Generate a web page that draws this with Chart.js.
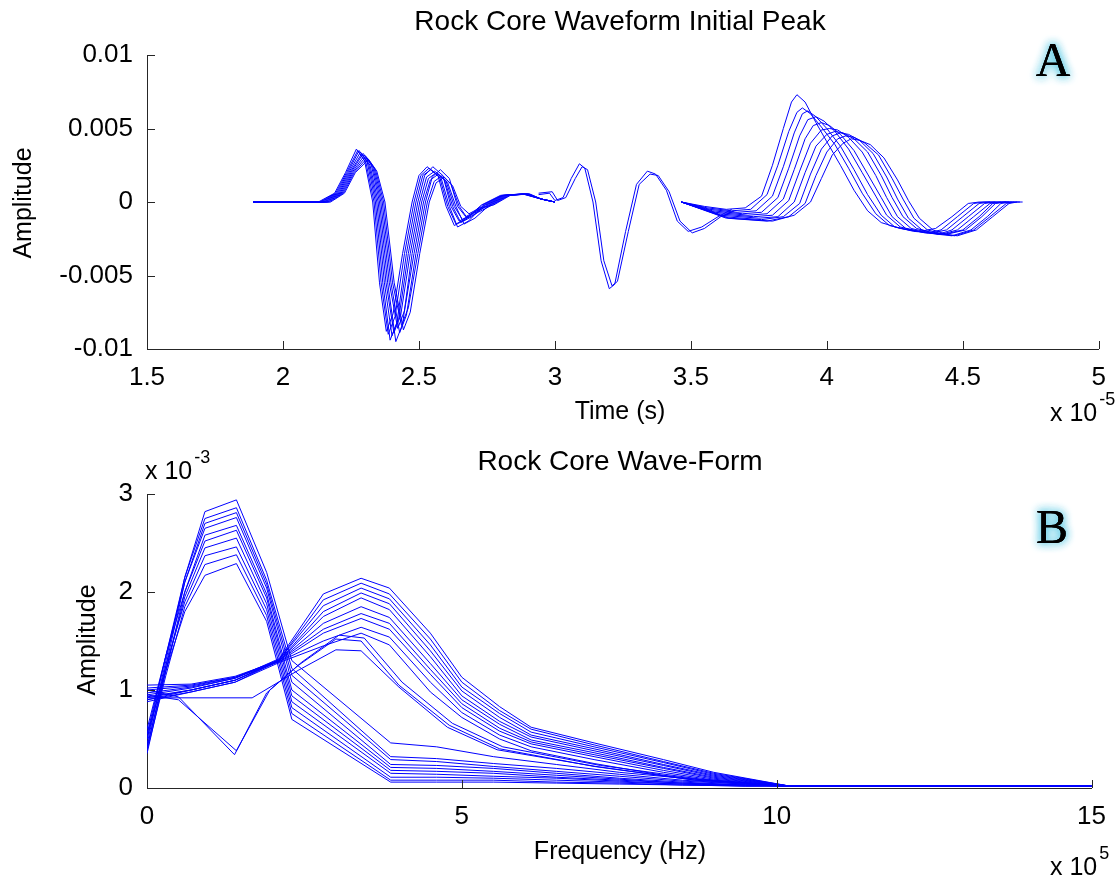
<!DOCTYPE html>
<html>
<head>
<meta charset="utf-8">
<script src="https://cdn.jsdelivr.net/npm/chart.js@4.4.0/dist/chart.umd.min.js"></script>
<style>
  html, body { margin: 0; padding: 0; background: #fff; }
  #wrap { position: relative; width: 1119px; height: 882px; overflow: hidden; }
  canvas { position: absolute; left: 0; }
  #chartA { top: 0; }
  #chartB { top: 440px; }
</style>
</head>
<body>
<div id="wrap">
  <canvas id="chartA" width="1119" height="440"></canvas>
  <canvas id="chartB" width="1119" height="442"></canvas>
</div>
<script>
// ---- Panel A: time traces (x in 1e-5 s, y in 1e-3) ----
const timeTicks = [1.5, 2, 2.5, 3, 3.5, 4, 4.5, 5];
const timeTickLabels = ['1.5', '2', '2.5', '3', '3.5', '4', '4.5', '5'];
const ampTicksA = [-10, -5, 0, 5, 10];
const ampTickLabelsA = ['-0.01', '-0.005', '0', '0.005', '0.01'];

// initial peak, one trace per core sample
const wave1a = [[1.89,0],[2.13,0],[2.19,0.6],[2.23,2.0],[2.27,3.6],[2.30,2.8],[2.33,0],[2.355,-5.5],[2.38,-8.8],[2.405,-7.6],[2.44,-3.5],[2.475,0],[2.5,1.8],[2.53,2.4],[2.57,1.8],[2.6,-0.3],[2.63,-1.6],[2.67,-1.2],[2.73,-0.2],[2.8,0.45],[2.88,0.55],[2.95,0.2],[3.0,0]];
const wave1b = [[1.89,0],[2.135,0],[2.194,0.6],[2.234,2.0],[2.275,3.5],[2.305,2.7],[2.335,0],[2.361,-5.5],[2.387,-9.0],[2.412,-7.8],[2.447,-3.5],[2.482,0],[2.507,1.8],[2.537,2.3],[2.576,1.7],[2.606,-0.3],[2.636,-1.5],[2.676,-1.1],[2.735,-0.2],[2.804,0.45],[2.883,0.55],[2.95,0.2],[3.0,0]];
const wave1c = [[1.89,0],[2.14,0],[2.198,0.6],[2.238,2.0],[2.28,3.5],[2.31,2.7],[2.34,0],[2.367,-5.5],[2.394,-9.4],[2.419,-8.2],[2.454,-3.5],[2.489,0],[2.514,1.8],[2.544,2.2],[2.582,1.6],[2.612,-0.3],[2.642,-1.7],[2.682,-1.3],[2.74,-0.2],[2.808,0.45],[2.886,0.55],[2.95,0.2],[3.0,0]];
const wave1d = [[1.89,0],[2.145,0],[2.202,0.6],[2.242,2.0],[2.285,3.4],[2.315,2.6],[2.345,0],[2.373,-5.5],[2.401,-9.1],[2.426,-7.9],[2.461,-3.5],[2.496,0],[2.521,1.8],[2.551,2.4],[2.588,1.8],[2.618,-0.3],[2.648,-1.3],[2.688,-0.9],[2.745,-0.2],[2.812,0.45],[2.889,0.55],[2.95,0.2],[3.0,0]];
const wave1e = [[1.89,0],[2.15,0],[2.206,0.6],[2.246,2.0],[2.29,3.3],[2.32,2.5],[2.35,0],[2.379,-5.5],[2.408,-8.9],[2.433,-7.7],[2.468,-3.5],[2.503,0],[2.528,1.7],[2.558,2.1],[2.594,1.5],[2.624,-0.3],[2.654,-1.4],[2.694,-1.0],[2.75,-0.2],[2.816,0.45],[2.892,0.55],[2.95,0.2],[3.0,0]];
const wave1f = [[1.89,0],[2.155,0],[2.21,0.6],[2.25,2.0],[2.295,3.3],[2.325,2.5],[2.355,0],[2.385,-5.5],[2.415,-9.5],[2.44,-8.3],[2.475,-3.5],[2.51,0],[2.535,1.6],[2.565,2.0],[2.6,1.4],[2.63,-0.3],[2.66,-1.2],[2.7,-0.8],[2.755,-0.2],[2.82,0.45],[2.895,0.55],[2.95,0.2],[3.0,0]];
const wave1g = [[1.89,0],[2.16,0],[2.214,0.6],[2.254,2.0],[2.3,3.2],[2.33,2.4],[2.36,0],[2.391,-5.5],[2.422,-8.6],[2.447,-7.4],[2.482,-3.5],[2.517,0],[2.542,1.5],[2.572,1.9],[2.606,1.3],[2.636,-0.3],[2.666,-1.5],[2.706,-1.1],[2.76,-0.2],[2.824,0.45],[2.898,0.55],[2.95,0.2],[3.0,0]];
const wave1h = [[1.89,0],[2.165,0],[2.218,0.6],[2.258,2.0],[2.305,3.1],[2.335,2.3],[2.365,0],[2.397,-5.5],[2.429,-8.9],[2.454,-7.7],[2.489,-3.5],[2.524,0],[2.549,1.7],[2.579,2.2],[2.612,1.6],[2.642,-0.3],[2.672,-1.0],[2.712,-0.6],[2.765,-0.2],[2.828,0.45],[2.901,0.55],[2.95,0.2],[3.0,0]];
const wave1i = [[1.89,0],[2.17,0],[2.222,0.6],[2.262,2.0],[2.31,3.0],[2.34,2.2],[2.37,0],[2.403,-5.5],[2.436,-8.4],[2.461,-7.2],[2.496,-3.5],[2.531,0],[2.556,1.4],[2.586,1.8],[2.618,1.2],[2.648,-0.3],[2.678,-1.1],[2.718,-0.7],[2.77,-0.2],[2.832,0.45],[2.904,0.55],[2.95,0.2],[3.0,0]];
const wave1j = [[1.89,0],[2.175,0],[2.226,0.6],[2.266,2.0],[2.315,2.9],[2.345,2.1],[2.375,0],[2.409,-5.5],[2.443,-8.7],[2.468,-7.5],[2.503,-3.5],[2.538,0],[2.563,1.3],[2.593,1.7],[2.624,1.1],[2.654,-0.3],[2.684,-0.8],[2.724,-0.4],[2.775,-0.2],[2.836,0.45],[2.907,0.55],[2.95,0.2],[3.0,0]];

// middle section, only two traces
const wave2a = [[2.94,0.5],[2.98,0.6],[3.0,0.1],[3.03,0.3],[3.06,1.6],[3.09,2.6],[3.11,2.3],[3.14,0],[3.17,-4.0],[3.2,-5.9],[3.22,-5.6],[3.26,-2.0],[3.3,1.2],[3.34,2.1],[3.37,1.9],[3.41,0.8],[3.45,-1.3],[3.49,-2.0],[3.54,-1.7],[3.6,-1.0],[3.65,-0.5]];
const wave2b = [[2.94,0.6],[2.99,0.7],[3.01,0.1],[3.04,0.3],[3.075,1.6],[3.1,2.4],[3.12,2.2],[3.15,0],[3.18,-4.0],[3.21,-5.7],[3.23,-5.4],[3.27,-2.0],[3.31,1.2],[3.35,1.9],[3.38,1.8],[3.42,0.7],[3.46,-1.3],[3.505,-2.1],[3.55,-1.8],[3.61,-1.0],[3.66,-0.6]];

// late arrivals
const wave3a = [[3.465,0],[3.55,-0.3],[3.63,-0.5],[3.7,-0.4],[3.76,0.4],[3.8,2.5],[3.84,5.0],[3.87,6.8],[3.89,7.3],[3.92,6.8],[3.96,5.4],[4.0,4.1],[4.05,2.5],[4.1,0.8],[4.15,-0.6],[4.2,-1.4],[4.27,-1.8],[4.34,-2.0],[4.4,-1.8],[4.46,-1.0],[4.52,-0.1],[4.56,0],[4.6,0]];
const wave3b = [[3.465,0],[3.56,-0.4],[3.65,-0.6],[3.72,-0.5],[3.78,0.5],[3.82,2.5],[3.86,4.8],[3.89,6.1],[3.91,6.4],[3.94,6.0],[3.98,5.1],[4.03,3.9],[4.08,2.3],[4.13,0.6],[4.18,-0.8],[4.23,-1.6],[4.3,-1.9],[4.37,-2.1],[4.42,-1.9],[4.48,-1.0],[4.54,-0.1],[4.58,0],[4.62,0]];
const wave3c = [[3.465,0],[3.57,-0.5],[3.67,-0.7],[3.74,-0.6],[3.8,0.4],[3.84,2.4],[3.88,4.7],[3.91,6.0],[3.93,6.2],[3.96,5.8],[4.0,5.0],[4.05,3.8],[4.1,2.2],[4.15,0.5],[4.2,-0.9],[4.25,-1.7],[4.32,-2.0],[4.39,-2.1],[4.44,-1.9],[4.5,-1.0],[4.56,-0.1],[4.6,0],[4.64,0]];
const wave3d = [[3.465,0],[3.58,-0.6],[3.69,-0.8],[3.76,-0.7],[3.82,0.3],[3.86,2.3],[3.9,4.5],[3.93,5.6],[3.96,5.8],[3.99,5.5],[4.03,4.8],[4.08,3.6],[4.13,2.0],[4.18,0.4],[4.22,-0.9],[4.27,-1.7],[4.34,-2.0],[4.41,-2.2],[4.46,-1.9],[4.52,-1.0],[4.58,-0.1],[4.62,0],[4.66,0]];
const wave3e = [[3.465,0],[3.59,-0.7],[3.71,-0.9],[3.78,-0.8],[3.84,0.2],[3.88,2.2],[3.92,4.3],[3.95,5.2],[3.98,5.4],[4.01,5.2],[4.05,4.6],[4.1,3.5],[4.15,1.9],[4.2,0.3],[4.24,-1.0],[4.29,-1.8],[4.36,-2.1],[4.42,-2.2],[4.48,-1.9],[4.54,-1.0],[4.6,-0.1],[4.64,0],[4.67,0]];
const wave3f = [[3.465,0],[3.6,-0.8],[3.73,-1.0],[3.8,-0.9],[3.86,0.1],[3.9,2.1],[3.94,4.0],[3.98,4.9],[4.01,5.0],[4.04,4.9],[4.08,4.4],[4.13,3.4],[4.18,1.8],[4.22,0.3],[4.26,-1.0],[4.31,-1.8],[4.38,-2.1],[4.43,-2.2],[4.5,-1.9],[4.56,-1.0],[4.61,-0.1],[4.65,0],[4.68,0]];
const wave3g = [[3.465,0],[3.61,-0.9],[3.75,-1.1],[3.82,-1.0],[3.88,0],[3.92,2.0],[3.96,3.8],[4.0,4.6],[4.03,4.8],[4.06,4.7],[4.1,4.3],[4.15,3.4],[4.2,1.8],[4.24,0.3],[4.28,-1.0],[4.33,-1.8],[4.39,-2.1],[4.44,-2.2],[4.51,-1.9],[4.57,-1.0],[4.62,-0.1],[4.66,0],[4.69,0]];
const wave3h = [[3.465,0],[3.62,-1.0],[3.76,-1.2],[3.84,-1.0],[3.9,-0.1],[3.94,1.9],[3.98,3.6],[4.02,4.5],[4.05,4.7],[4.08,4.6],[4.12,4.2],[4.17,3.3],[4.22,1.7],[4.26,0.2],[4.3,-1.1],[4.35,-1.9],[4.41,-2.2],[4.46,-2.3],[4.53,-1.9],[4.59,-1.0],[4.64,-0.1],[4.68,0],[4.7,0]];
const wave3i = [[3.465,0],[3.63,-1.1],[3.78,-1.3],[3.86,-1.0],[3.92,-0.1],[3.96,1.8],[4.0,3.4],[4.04,4.3],[4.07,4.5],[4.1,4.4],[4.14,4.0],[4.19,3.2],[4.24,1.6],[4.28,0.2],[4.32,-1.1],[4.37,-1.9],[4.43,-2.2],[4.47,-2.3],[4.54,-1.9],[4.6,-1.0],[4.66,-0.1],[4.69,0],[4.71,0]];
const wave3j = [[3.465,0],[3.64,-1.1],[3.8,-1.3],[3.88,-0.9],[3.94,0],[3.98,1.6],[4.02,3.2],[4.06,4.0],[4.09,4.3],[4.12,4.2],[4.16,3.9],[4.21,3.0],[4.26,1.5],[4.3,0.1],[4.34,-1.1],[4.39,-1.9],[4.44,-2.2],[4.48,-2.3],[4.55,-1.9],[4.61,-1.0],[4.67,-0.1],[4.7,0],[4.72,0]];

// ---- Panel B: spectra (x in 1e5 Hz, y in 1e-3) ----
const freqTicks = [0, 5, 10, 15];
const ampTicksB = [0, 1, 2, 3];

// low-frequency family
const lowFreq = [0, 0.3, 0.6, 0.92, 1.42, 1.9, 2.3, 3.87, 4.6, 5.5, 6.5, 7.5, 8.5, 9.5, 10.2, 15];
const low1 = [0.45,1.3,2.15,2.82,2.94,2.2,1.3,0.46,0.42,0.32,0.24,0.16,0.1,0.05,0.02,0.02];
const low2 = [0.5,1.35,2.15,2.75,2.86,2.12,1.22,0.32,0.3,0.25,0.2,0.14,0.08,0.04,0.02,0.02];
const low3 = [0.4,1.25,2.1,2.7,2.81,2.08,1.15,0.29,0.27,0.22,0.17,0.12,0.07,0.04,0.02,0.02];
const low4 = [0.55,1.35,2.1,2.65,2.76,2.04,1.08,0.24,0.23,0.2,0.15,0.1,0.06,0.03,0.02,0.02];
const low5 = [0.35,1.2,2.0,2.58,2.68,1.98,1.0,0.21,0.2,0.17,0.13,0.09,0.05,0.03,0.02,0.02];
const low6 = [0.6,1.35,2.0,2.52,2.63,1.94,0.94,0.18,0.17,0.15,0.11,0.08,0.05,0.03,0.02,0.02];
const low7 = [0.42,1.2,1.95,2.45,2.55,1.88,0.88,0.15,0.14,0.12,0.1,0.07,0.04,0.03,0.02,0.02];
const low8 = [0.5,1.25,1.9,2.37,2.46,1.82,0.82,0.11,0.11,0.1,0.08,0.06,0.04,0.02,0.02,0.02];
const low9 = [0.38,1.15,1.85,2.28,2.38,1.76,0.76,0.08,0.08,0.08,0.06,0.05,0.03,0.02,0.02,0.02];
const low10 = [0.55,1.2,1.8,2.17,2.29,1.7,0.7,0.06,0.06,0.06,0.05,0.04,0.03,0.02,0.02,0.02];

// high-frequency family
const highFreq = [0, 0.7, 1.4, 2.1, 2.8, 3.4, 3.85, 4.5, 5.0, 5.6, 6.1, 7.1, 8.2, 9.0, 10.2, 15];
const high1 = [0.95,1.02,1.12,1.32,1.98,2.14,2.04,1.58,1.13,0.83,0.62,0.46,0.29,0.16,0.02,0.02];
const high2 = [1.0,1.04,1.13,1.31,1.92,2.09,1.98,1.52,1.08,0.79,0.6,0.44,0.27,0.15,0.02,0.02];
const high3 = [0.9,1.0,1.1,1.31,1.86,2.04,1.93,1.46,1.03,0.76,0.57,0.42,0.26,0.14,0.02,0.02];
const high4 = [1.05,1.06,1.14,1.3,1.8,1.99,1.88,1.4,0.99,0.72,0.54,0.4,0.24,0.13,0.02,0.02];
const high5 = [0.92,1.0,1.1,1.3,1.75,1.94,1.82,1.34,0.94,0.68,0.52,0.38,0.23,0.12,0.02,0.02];
const high6 = [0.97,1.03,1.12,1.3,1.68,1.85,1.74,1.27,0.9,0.65,0.49,0.36,0.21,0.11,0.02,0.02];
const high7 = [0.88,0.98,1.08,1.3,1.62,1.78,1.68,1.21,0.86,0.61,0.47,0.34,0.2,0.1,0.02,0.02];
const high8 = [1.02,1.05,1.13,1.29,1.58,1.73,1.62,1.16,0.82,0.58,0.45,0.32,0.18,0.09,0.02,0.02];
const high9 = [0.93,1.0,1.1,1.29,1.5,1.64,1.54,1.08,0.77,0.54,0.42,0.29,0.16,0.08,0.02,0.02];
const high10 = [0.9,0.98,1.08,1.28,1.45,1.58,1.46,0.98,0.72,0.5,0.38,0.25,0.13,0.07,0.02,0.02];

// odd ones (dip near 1.4e5 and the flat start)
const dipSpec1 = [[0,1.0],[0.5,0.93],[1.39,0.34],[1.9,0.97],[2.4,1.25],[3.0,1.52],[3.4,1.5],[4.0,1.05],[4.8,0.64],[5.6,0.4],[7.1,0.22],[8.7,0.08],[10.2,0.02],[15,0.02]];
const dipSpec2 = [[0,0.95],[0.5,0.9],[1.42,0.38],[1.95,1.0],[2.45,1.28],[3.05,1.56],[3.45,1.53],[4.05,1.08],[4.85,0.66],[5.65,0.42],[7.2,0.23],[8.8,0.09],[10.2,0.02],[15,0.02]];
const flatSpec = [[0,0.92],[1.67,0.92],[2.4,1.2],[3.0,1.41],[3.4,1.4],[4.0,1.03],[4.77,0.62],[5.56,0.39],[7.13,0.22],[8.7,0.08],[10.2,0.02],[15,0.02]];

const LINE_BLUE = '#0000ff';
const FONT = "'Liberation Sans', Arial, sans-serif";

function trace(points) {
    return {
        data: points.map(p => ({ x: p[0], y: p[1] })),
        borderColor: LINE_BLUE,
        borderWidth: 1,
        pointRadius: 0,
        fill: false,
        tension: 0
    };
}

function zip(xs, ys) {
    return trace(xs.map((x, i) => [x, ys[i]]));
}

// inward MATLAB style tick marks
const innerTicks = {
    id: 'innerTicks',
    afterDraw(chart) {
        const ctx = chart.ctx;
        const xs = chart.scales.x, ys = chart.scales.y;
        const a = chart.chartArea;
        ctx.save();
        ctx.strokeStyle = '#262626';
        ctx.lineWidth = 1;
        ctx.beginPath();
        xs.ticks.forEach(t => {
            const px = Math.round(xs.getPixelForValue(t.value)) + 0.5;
            ctx.moveTo(px, a.bottom);
            ctx.lineTo(px, a.bottom - 8);
        });
        ys.ticks.forEach(t => {
            const py = Math.round(ys.getPixelForValue(t.value)) + 0.5;
            ctx.moveTo(a.left, py);
            ctx.lineTo(a.left + 8, py);
        });
        ctx.stroke();
        ctx.restore();
    }
};

// titles, axis names, exponents and panel letters
function annotations(cfg) {
    return {
        id: 'annot',
        afterDraw(chart) {
            const ctx = chart.ctx;
            ctx.save();
            ctx.fillStyle = '#000';
            ctx.textAlign = 'center';
            ctx.textBaseline = 'middle';
            ctx.font = '28px ' + FONT;
            ctx.fillText(cfg.title, 620, cfg.titleY);
            ctx.font = '25px ' + FONT;
            ctx.fillText(cfg.xLabel, 620, cfg.xLabelY);
            ctx.save();
            ctx.translate(cfg.yLabelX, cfg.yLabelY);
            ctx.rotate(-Math.PI / 2);
            ctx.fillText('Amplitude', 0, 0);
            ctx.restore();
            cfg.exps.forEach(e => {
                ctx.textAlign = 'left';
                ctx.font = '25px ' + FONT;
                ctx.fillText('x 10', e.x, e.y);
                const w = ctx.measureText('x 10').width;
                ctx.font = '18px ' + FONT;
                ctx.fillText(e.pow, e.x + w + 2, e.y - 14);
            });
            // letter with cyan glow
            ctx.textAlign = 'center';
            ctx.textBaseline = 'alphabetic';
            ctx.font = "48px 'Liberation Serif', 'Times New Roman', serif";
            ctx.shadowColor = 'rgba(70,195,225,0.95)';
            ctx.shadowBlur = 10;
            ctx.fillText(cfg.letter, cfg.letterX, cfg.letterY);
            ctx.fillText(cfg.letter, cfg.letterX, cfg.letterY);
            ctx.shadowBlur = 0;
            ctx.fillText(cfg.letter, cfg.letterX, cfg.letterY);
            ctx.restore();
        }
    };
}

function axisOptions(xMin, xMax, xTicks, xLabels, yMin, yMax, yTicks, yLabels, xHeight) {
    const tickFont = { family: FONT, size: 26 };
    return {
        x: {
            type: 'linear', min: xMin, max: xMax,
            afterBuildTicks: s => { s.ticks = xTicks.map(v => ({ value: v })); },
            afterFit: s => { s.height = xHeight; },
            grid: { drawOnChartArea: false, drawTicks: false },
            border: { display: true, color: '#262626', width: 1 },
            ticks: { font: tickFont, color: '#000', padding: 13, maxRotation: 0,
                     callback: (v, i) => xLabels[i] }
        },
        y: {
            type: 'linear', min: yMin, max: yMax,
            afterBuildTicks: s => { s.ticks = yTicks.map(v => ({ value: v })); },
            afterFit: s => { s.width = 147; },
            grid: { drawOnChartArea: false, drawTicks: false },
            border: { display: true, color: '#262626', width: 1 },
            ticks: { font: tickFont, color: '#000', padding: 14,
                     callback: (v, i) => yLabels[i] }
        }
    };
}

new Chart(document.getElementById('chartA'), {
    type: 'line',
    data: {
        datasets: [wave1a, wave1b, wave1c, wave1d, wave1e, wave1f, wave1g, wave1h, wave1i, wave1j,
                   wave2a, wave2b,
                   wave3a, wave3b, wave3c, wave3d, wave3e, wave3f, wave3g, wave3h, wave3i, wave3j].map(trace)
    },
    options: {
        responsive: false,
        animation: false,
        devicePixelRatio: 1,
        layout: { padding: { left: 0, top: 55, right: 19, bottom: 0 } },
        plugins: { legend: { display: false }, tooltip: { enabled: false } },
        scales: axisOptions(1.5, 5, timeTicks, timeTickLabels, -10, 10, ampTicksA, ampTickLabelsA, 91)
    },
    plugins: [innerTicks, annotations({
        title: 'Rock Core Waveform Initial Peak', titleY: 22,
        xLabel: 'Time (s)', xLabelY: 412,
        yLabelX: 24, yLabelY: 203,
        exps: [{ x: 1050, y: 414, pow: '-5' }],
        letter: 'A', letterX: 1053, letterY: 76
    })]
});

new Chart(document.getElementById('chartB'), {
    type: 'line',
    data: {
        datasets: [
            zip(lowFreq, low1), zip(lowFreq, low2), zip(lowFreq, low3), zip(lowFreq, low4), zip(lowFreq, low5),
            zip(lowFreq, low6), zip(lowFreq, low7), zip(lowFreq, low8), zip(lowFreq, low9), zip(lowFreq, low10),
            zip(highFreq, high1), zip(highFreq, high2), zip(highFreq, high3), zip(highFreq, high4), zip(highFreq, high5),
            zip(highFreq, high6), zip(highFreq, high7), zip(highFreq, high8), zip(highFreq, high9), zip(highFreq, high10),
            trace(dipSpec1), trace(dipSpec2), trace(flatSpec)
        ]
    },
    options: {
        responsive: false,
        animation: false,
        devicePixelRatio: 1,
        layout: { padding: { left: 0, top: 54, right: 19, bottom: 0 } },
        plugins: { legend: { display: false }, tooltip: { enabled: false } },
        scales: axisOptions(0, 15, freqTicks, ['0', '5', '10', '15'], 0, 3, ampTicksB, ['0', '1', '2', '3'], 94)
    },
    plugins: [innerTicks, annotations({
        title: 'Rock Core Wave-Form', titleY: 22,
        xLabel: 'Frequency (Hz)', xLabelY: 412,
        yLabelX: 88, yLabelY: 200,
        exps: [{ x: 1050, y: 428, pow: '5' }, { x: 145, y: 32, pow: '-3' }],
        letter: 'B', letterX: 1052, letterY: 103
    })]
});
</script>
</body>
</html>
